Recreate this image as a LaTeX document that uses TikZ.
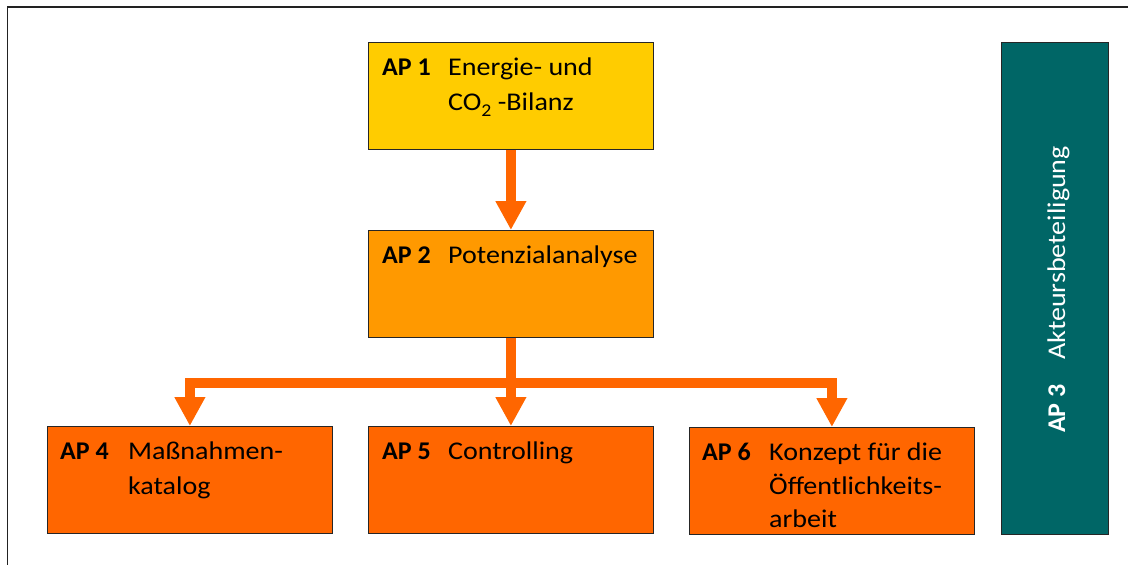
\documentclass[tikz,border=0pt]{standalone}
\usepackage{fontspec}
\setmainfont{Carlito}
\newfontfamily\apreg{Carlito}[FakeStretch=1.10]
\newfontfamily\apbold{Carlito}[FakeStretch=1.02]
\usetikzlibrary{arrows.meta,calc}
\definecolor{apyellow}{HTML}{FFCC00}
\definecolor{aplight}{HTML}{FF9900}
\definecolor{aporange}{HTML}{FF6600}
\definecolor{apteal}{HTML}{006666}
\definecolor{framegray}{HTML}{222222}
\newcommand{\apnum}[1]{{\apbold\bfseries #1}}
\tikzset{
  box/.style={draw=black!85, line width=0.8pt, minimum width=285pt, minimum height=107pt, inner sep=0pt, anchor=north west},
  lbl/.style={inner sep=0pt, anchor=base west, font=\fontsize{25.5}{35}\apreg},
  conn/.style={draw=aporange, line width=10pt, line join=miter, -{Triangle[width=29pt,length=29pt]}},
  frameline/.style={draw=framegray, line width=1.6pt}
}
\begin{document}
\begin{tikzpicture}[x=1pt,y=-1pt]
\useasboundingbox (0,0) rectangle (1128,565);
% outer frame
\coordinate (fa) at (1130,7);
\coordinate (fb) at (7.5,7);
\coordinate (fc) at (7.5,570);
\draw[frameline] (fa) -- (fb) -- (fc);
% boxes
\node[box, fill=apyellow] (ap1) at (368,42) {};
\node[box, fill=aplight] (ap2) at (368,230) {};
\node[box, fill=aporange] (ap4) at (47,426) {};
\node[box, fill=aporange] (ap5) at (368,426) {};
\node[box, fill=aporange] (ap6) at (689,427) {};
\node[box, fill=apteal, minimum width=107pt, minimum height=492pt] (ap3) at (1001,42) {};
% connectors
\coordinate (j) at ($(ap2.south)+(0,45)$);
\draw[conn] (ap1.south) -- (ap2.north);
\draw[conn] (ap2.south) -- (j) -| (ap4.north);
\draw[conn] (ap2.south) -- (j) -| (ap6.north);
\draw[conn] (ap2.south) -- (ap5.north);
% labels AP1
\node[lbl] (t1a) at ($(ap1.north west)+(14,33)$) {\apnum{AP 1}};
\node[lbl] (t1b) at ($(ap1.north west)+(80,33)$) {Energie- und};
\node[lbl] (t1c) at ($(ap1.north west)+(80,68)$) {CO\raisebox{-6pt}{\fontsize{18}{18}\selectfont 2} -Bilanz};
% AP2
\node[lbl] (t2a) at ($(ap2.north west)+(14,33)$) {\apnum{AP 2}};
\node[lbl] (t2b) at ($(ap2.north west)+(80,33)$) {Potenzialanalyse};
% AP4
\node[lbl] (t4a) at ($(ap4.north west)+(13,33)$) {\apnum{AP 4}};
\node[lbl] (t4b) at ($(ap4.north west)+(81,33)$) {Maßnahmen-};
\node[lbl] (t4c) at ($(ap4.north west)+(81,68)$) {katalog};
% AP5
\node[lbl] (t5a) at ($(ap5.north west)+(14,33)$) {\apnum{AP 5}};
\node[lbl] (t5b) at ($(ap5.north west)+(80,33)$) {Controlling};
% AP6
\node[lbl] (t6a) at ($(ap6.north west)+(13,33)$) {\apnum{AP 6}};
\node[lbl] (t6b) at ($(ap6.north west)+(80,33)$) {Konzept für die};
\node[lbl] (t6c) at ($(ap6.north west)+(80,67)$) {Öffentlichkeits-};
\node[lbl] (t6d) at ($(ap6.north west)+(80,100)$) {arbeit};
% AP3 rotated
\node[lbl, rotate=90, text=white] (t3a) at (1065,433) {\apnum{AP 3}};
\node[lbl, rotate=90, text=white] (t3b) at (1065,360) {Akteursbeteiligung};
\end{tikzpicture}
\end{document}
